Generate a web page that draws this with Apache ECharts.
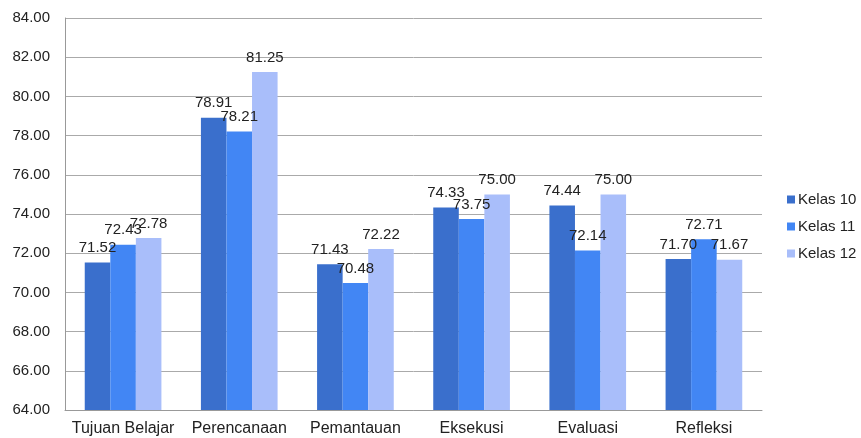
<!DOCTYPE html>
<html>
<head>
<meta charset="utf-8">
<script src="https://cdn.jsdelivr.net/npm/echarts@6/dist/echarts.min.js"></script>
<style>
  html, body { margin: 0; padding: 0; background: #fff; }
  #chart { width: 861px; height: 438px; }
</style>
</head>
<body>
<div id="chart"></div>
<script>
// Categories and values per class
const categories = ['Tujuan Belajar', 'Perencanaan', 'Pemantauan', 'Eksekusi', 'Evaluasi', 'Refleksi'];
const seriesNames = ['Kelas 10', 'Kelas 11', 'Kelas 12'];
const kelas10 = [71.52, 78.91, 71.43, 74.33, 74.44, 71.70];
const kelas11 = [72.43, 78.21, 70.48, 73.75, 72.14, 72.71];
const kelas12 = [72.78, 81.25, 72.22, 75.00, 75.00, 71.67];
const colors = ['#3a6fcc', '#4286f4', '#a9befa'];

const fontFamily = '"Liberation Sans", Arial, sans-serif';
const chart = echarts.init(document.getElementById('chart'));

function makeSeries(name, data, color) {
  return {
    name: name,
    type: 'bar',
    data: data,
    barGap: '0%',
    barCategoryGap: '34%',
    itemStyle: { color: color },
    label: {
      show: true,
      position: 'top',
      distance: 7,
      formatter: p => p.value.toFixed(2),
      color: '#222',
      fontSize: 15,
      fontFamily: fontFamily
    }
  };
}

chart.setOption({
  animation: false,
  grid: { left: 65, right: 99, top: 18, bottom: 28, containLabel: false },
  legend: {
    orient: 'vertical',
    left: 782,
    top: 187,
    itemWidth: 8,
    itemHeight: 8,
    itemGap: 12,
    icon: 'rect',
    textStyle: { fontSize: 15, color: '#222', fontFamily: fontFamily, padding: [0, 0, 0, -2] },
    data: seriesNames
  },
  xAxis: {
    type: 'category',
    data: categories,
    axisLine: { lineStyle: { color: '#999' } },
    axisTick: { show: false },
    axisLabel: { fontSize: 16, color: '#222', fontFamily: fontFamily, margin: 11, interval: 0 }
  },
  yAxis: {
    type: 'value',
    min: 64,
    max: 84,
    interval: 2,
    axisLine: { show: true, lineStyle: { color: '#999' } },
    axisTick: { show: false },
    splitLine: { lineStyle: { color: '#aaa' } },
    axisLabel: { fontSize: 15, color: '#222', fontFamily: fontFamily, margin: 15, formatter: v => v.toFixed(2) }
  },
  series: [
    makeSeries(seriesNames[0], kelas10, colors[0]),
    makeSeries(seriesNames[1], kelas11, colors[1]),
    makeSeries(seriesNames[2], kelas12, colors[2])
  ]
});
</script>
</body>
</html>
